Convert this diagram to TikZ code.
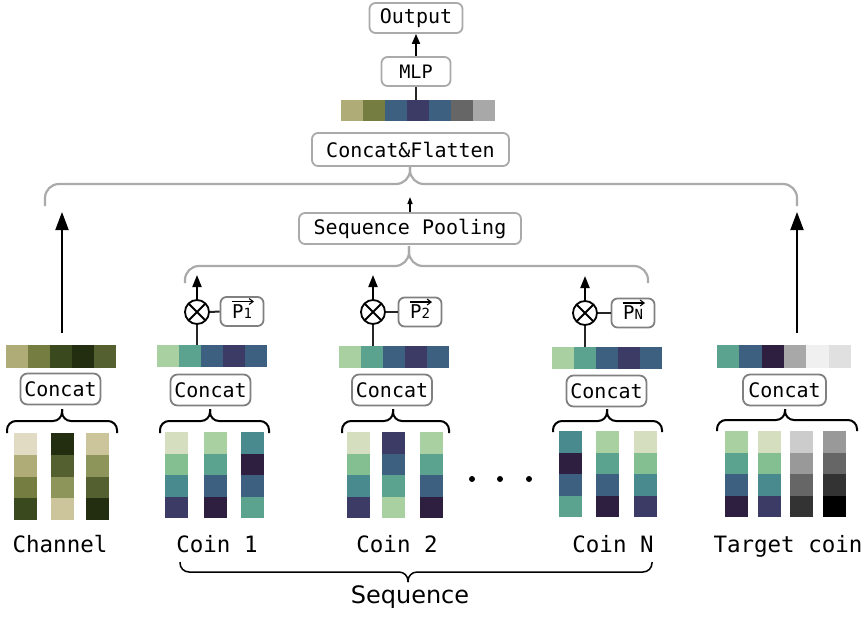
\documentclass[tikz,border=0pt]{standalone}
\usepackage{fontspec}
\setmonofont{DejaVu Sans Mono}
\setsansfont{DejaVu Sans}
\usetikzlibrary{arrows.meta}
\definecolor{khaki}{HTML}{B0AC78}
\definecolor{olive}{HTML}{757E40}
\definecolor{forest}{HTML}{3A4A1E}
\definecolor{dforest}{HTML}{232D0F}
\definecolor{moss}{HTML}{556030}
\definecolor{sage}{HTML}{8E955A}
\definecolor{sand}{HTML}{CCC59C}
\definecolor{cream}{HTML}{E2DBC4}
\definecolor{steel}{HTML}{3E6080}
\definecolor{slate}{HTML}{3B3B66}
\definecolor{plum}{HTML}{2E1F40}
\definecolor{teal}{HTML}{488A8E}
\definecolor{tgreen}{HTML}{5BA28F}
\definecolor{mint}{HTML}{84BF92}
\definecolor{lgreen}{HTML}{A9D0A0}
\definecolor{pale}{HTML}{D6DEC0}
\definecolor{gA}{HTML}{CCCCCC}
\definecolor{gB}{HTML}{999999}
\definecolor{gC}{HTML}{666666}
\definecolor{gD}{HTML}{333333}
\definecolor{gE}{HTML}{A8A8A8}
\definecolor{gF}{HTML}{F0F0F0}
\definecolor{gG}{HTML}{E0E0E0}
\definecolor{boxline}{HTML}{808080}
\definecolor{lightline}{HTML}{AAAAAA}
\newcommand\hcells[5]{\foreach \cc [count=\ii from 0] in {#5}{\fill[\cc] ({#1+\ii*#3},#2) rectangle ++(#3,#4);}}
\newcommand\vcells[5]{\foreach \cc [count=\ii from 0] in {#5}{\fill[\cc] (#1,{#2+\ii*#4}) rectangle ++(#3,#4);}}
% style, x1, x2, xm, ymid, yend, ytip
\newcommand\mybrace[7]{%
  \draw[#1] (#2,#6) -- (#2,#5) -- (#4,#5) -- (#4,#7);
  \draw[#1] (#3,#6) -- (#3,#5) -- (#4,#5) -- (#4,#7);}
\newcommand\plabel[1]{P\fontsize{14}{14}\selectfont #1}
\newcommand\parrow[1]{\draw[line width=1.1pt, -{Straight Barb[length=4pt,width=6pt]}] ([xshift=-10pt,yshift=10pt]#1.center) -- ++(22,0);}
\begin{document}
\begin{tikzpicture}[x=1pt,y=-1pt,
  tbox/.style={draw=lightline, line width=1.8pt, rounded corners=6pt, fill=white, inner sep=0pt,
    font=\ttfamily\fontsize{20}{24}\selectfont},
  cbox/.style={draw=boxline, line width=1.8pt, rounded corners=7pt, fill=white, inner sep=0pt,
    minimum width=80pt, minimum height=31pt, font=\ttfamily\fontsize{20}{24}\selectfont},
  pbox/.style={draw=boxline, line width=1.8pt, rounded corners=6pt, fill=white, inner sep=0pt,
    minimum width=43pt, minimum height=29pt, text depth=0pt, font=\ttfamily\fontsize{19}{20}\selectfont},
  otimesnode/.style={circle, draw=black, line width=1.8pt, minimum size=24pt, inner sep=0pt,
    path picture={\draw[line width=1.8pt] (path picture bounding box.center) ++(45:13pt) -- ++(225:26pt);
                  \draw[line width=1.8pt] (path picture bounding box.center) ++(135:13pt) -- ++(315:26pt);}},
  lab/.style={font=\ttfamily\fontsize{22.5}{26}\selectfont, anchor=base, inner sep=0pt},
  gbrace/.style={draw=lightline, line width=2.2pt, rounded corners=14pt},
  kbrace/.style={draw=black, line width=2pt, rounded corners=9pt},
  sbrace/.style={draw=black, line width=1.5pt, rounded corners=9pt},
  bigarrow/.style={line width=2pt, -{Triangle[length=18pt,width=13pt]}},
  midarrow/.style={line width=2pt, -{Triangle[length=12pt,width=9pt]}},
  smallarrow/.style={line width=1.8pt, -{Triangle[length=10pt,width=8pt]}},
  tinyarrow/.style={line width=1.4pt, -{Triangle[length=7pt,width=5pt]}},
  link/.style={line width=2pt, draw=black!85}
]
\useasboundingbox (0,0) rectangle (866,627);

% ---------- top ----------
\node[tbox, minimum width=93pt, minimum height=30pt] (out) at (416,18) {Output};
\node[tbox, minimum width=69pt, minimum height=29pt, font=\ttfamily\fontsize{18.5}{22}\selectfont] (mlp) at (416,71.5) {MLP};
\node[tbox, minimum width=197pt, minimum height=33pt] (cf) at (410.5,149.5) {Concat\&Flatten};
\node[tbox, minimum width=222pt, minimum height=31pt] (sp) at (410,228.5) {Sequence Pooling};
\hcells{341}{100}{22}{21}{khaki,olive,steel,slate,steel,gC,gE}
\coordinate (topv) at (416,100);
\draw[smallarrow] (mlp.north) -- (out.south);
\draw[link] (mlp.south) -- (topv);

\mybrace{gbrace}{45}{797}{410}{184}{206}{167}
\mybrace{gbrace}{185}{648}{409}{266}{283}{246}
\coordinate (spA) at (410,197);
\draw[tinyarrow] (sp.north) -- (spA);

% ---------- channel ----------
\hcells{6}{345}{22}{23}{khaki,olive,forest,dforest,moss}
\coordinate (chS) at (62,333);
\coordinate (chT) at (62,212);
\draw[bigarrow] (chS) -- (chT);
\node[cbox] (cc0) at (60.5,389) {Concat};
\mybrace{kbrace}{7}{117}{62}{421}{433}{409}
\vcells{14}{433}{23}{21.75}{cream,khaki,olive,forest}
\vcells{51}{433}{23}{21.75}{dforest,moss,sage,sand}
\vcells{86}{433}{23}{21.75}{sand,sage,moss,dforest}
\node[lab] (l0) at (60,552) {Channel};

% ---------- coin 1 ----------
\hcells{157}{345}{22}{22}{lgreen,tgreen,steel,slate,steel}
\node[otimesnode] (o1) at (197,312) {};
\node[pbox] (p1) at (242,311.5) {\plabel{1}};
\parrow{p1}
\coordinate (v1) at (197,345);
\coordinate (a1) at (197,275);
\draw[link] (v1) -- (o1.south);
\draw[link] (o1.east) -- (p1.west);
\draw[midarrow] (o1.north) -- (a1);
\node[cbox] (cc1) at (210.5,390) {Concat};
\mybrace{kbrace}{160}{269}{210}{421}{433}{409}
\vcells{165}{432}{23}{21.5}{pale,mint,teal,slate}
\vcells{204}{432}{23}{21.5}{lgreen,tgreen,steel,plum}
\vcells{241}{432}{23}{21.5}{teal,plum,steel,tgreen}
\node[lab] (l1) at (217,552) {Coin 1};

% ---------- coin 2 ----------
\hcells{339}{346}{22}{22}{lgreen,tgreen,steel,slate,steel}
\node[otimesnode] (o2) at (373,312) {};
\node[pbox] (p2) at (420,312) {\plabel{2}};
\parrow{p2}
\coordinate (v2) at (373,346);
\coordinate (a2) at (373,275);
\draw[link] (v2) -- (o2.south);
\draw[link] (o2.east) -- (p2.west);
\draw[midarrow] (o2.north) -- (a2);
\node[cbox] (cc2) at (392,390) {Concat};
\mybrace{kbrace}{342}{449}{393}{421}{433}{409}
\vcells{347}{432}{23}{21.5}{pale,mint,teal,slate}
\vcells{382}{432}{23}{21.5}{slate,steel,tgreen,lgreen}
\vcells{420}{432}{23}{21.5}{lgreen,tgreen,steel,plum}
\node[lab] (l2) at (397,552) {Coin 2};

% ---------- dots ----------
\fill (472,479) circle (3pt) (500,479) circle (3pt) (529,479) circle (3pt);

% ---------- coin N ----------
\hcells{552}{347}{22}{22}{lgreen,tgreen,steel,slate,steel}
\node[otimesnode] (oN) at (585,313) {};
\node[pbox] (pN) at (633,313) {\plabel{N}};
\parrow{pN}
\coordinate (vN) at (585,347);
\coordinate (aN) at (585,276);
\draw[link] (vN) -- (oN.south);
\draw[link] (oN.east) -- (pN.west);
\draw[midarrow] (oN.north) -- (aN);
\node[cbox] (ccN) at (606.5,391) {Concat};
\mybrace{kbrace}{553}{662}{607}{421}{432}{409}
\vcells{559}{431}{23}{21.5}{teal,plum,steel,tgreen}
\vcells{596}{431}{23}{21.5}{lgreen,tgreen,steel,plum}
\vcells{634}{431}{23}{21.5}{pale,mint,teal,slate}
\node[lab] (lN) at (613,552) {Coin N};

% ---------- target ----------
\hcells{717}{345}{22.3}{23}{tgreen,steel,plum,gE,gF,gG}
\coordinate (tgS) at (797,333);
\coordinate (tgT) at (797,212);
\draw[bigarrow] (tgS) -- (tgT);
\node[cbox, minimum width=83pt] (cct) at (784.5,390) {Concat};
\mybrace{kbrace}{717}{857}{785}{420}{431}{409}
\vcells{725}{431}{23}{21.5}{lgreen,tgreen,steel,plum}
\vcells{758}{431}{23}{21.5}{pale,mint,teal,slate}
\vcells{790}{431}{23}{21.5}{gA,gB,gC,gD}
\vcells{823}{431}{23}{21.5}{gB,gC,gD,black}
\node[lab] (lt) at (788,552) {Target coin};

% ---------- sequence ----------
\mybrace{sbrace}{180}{652}{408}{572}{562}{582}
\node[font=\sffamily\fontsize{24}{28}\selectfont, anchor=base, inner sep=0pt] (seq) at (410,603) {Sequence};
\end{tikzpicture}
\end{document}
